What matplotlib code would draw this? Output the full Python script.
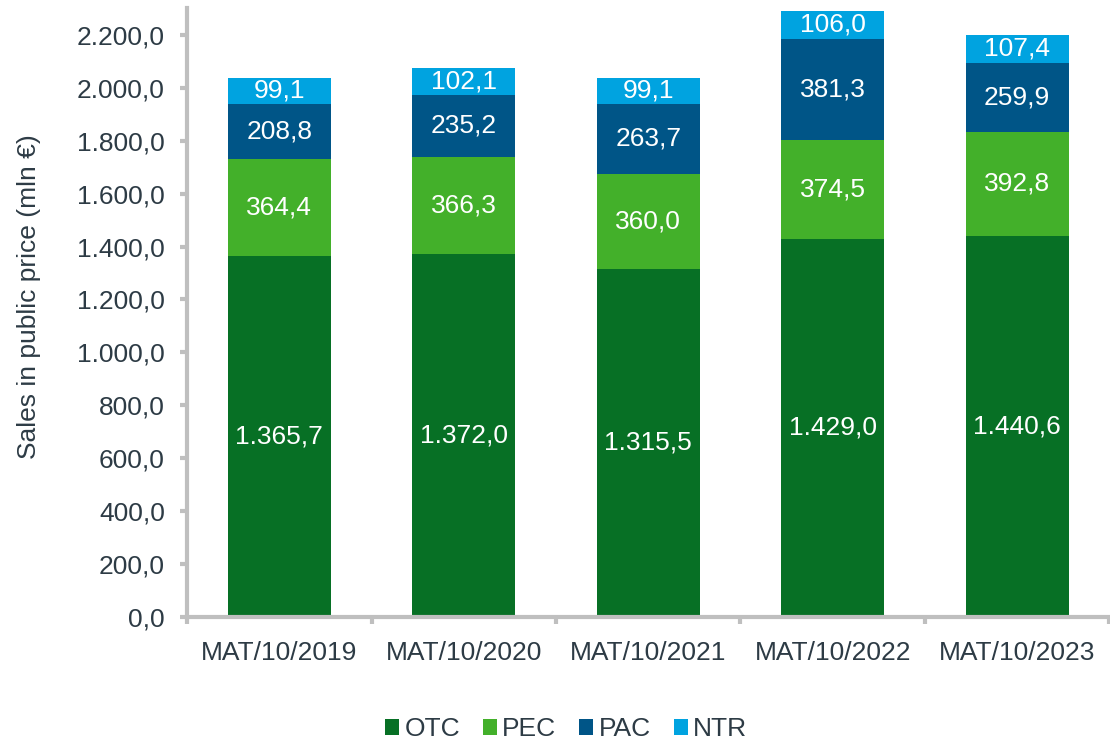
import matplotlib
matplotlib.use("Agg")
import matplotlib.pyplot as plt
import numpy as np

categories = ["MAT/10/2019", "MAT/10/2020", "MAT/10/2021", "MAT/10/2022", "MAT/10/2023"]
otc = [1365.7, 1372.0, 1315.5, 1429.0, 1440.6]
pec = [364.4, 366.3, 360.0, 374.5, 392.8]
pac = [208.8, 235.2, 263.7, 381.3, 259.9]
ntr = [99.1, 102.1, 99.1, 106.0, 107.4]
series_names = ["OTC", "PEC", "PAC", "NTR"]
colors = ["#077025", "#43b02a", "#005587", "#00a3e0"]
yticks = [0, 200, 400, 600, 800, 1000, 1200, 1400, 1600, 1800, 2000, 2200]

plt.rcParams['font.family'] = ['Liberation Sans', 'DejaVu Sans']
txt = "#2d3b45"
axc = "#bfbfbf"
fs = 19

def fmt(v):
    s = f"{v:,.1f}"
    return s.replace(",", "X").replace(".", ",").replace("X", ".")

fig = plt.figure(figsize=(11.1, 7.44), dpi=100)
ax = fig.add_axes([0.1685, 0.1707, 0.831, 0.818])
x = np.arange(len(categories))
bottom = np.zeros(len(categories))
for name, vals, c in zip(series_names, [otc, pec, pac, ntr], colors):
    vals = np.array(vals)
    ax.bar(x, vals, 0.56, bottom=bottom, color=c, label=name)
    for xi, b, v in zip(x, bottom, vals):
        ax.text(xi, b + v / 2, fmt(v), ha="center", va="center", color="white", fontsize=fs)
    bottom += vals

ax.set_xlim(-0.5, len(categories) - 0.5)
ax.set_ylim(0, 2300)
ax.set_yticks(yticks)
ax.set_yticklabels([fmt(v) for v in yticks])
ax.set_xticks(np.arange(-0.5, len(categories), 1.0), minor=False)
ax.set_xticklabels([])
ax.set_xticks(x, minor=True)
ax.set_xticklabels(categories, minor=True)
ax.tick_params(axis="x", which="minor", length=0, pad=17, labelsize=fs, labelcolor=txt)
ax.tick_params(axis="x", which="major", length=5, width=3, color=axc)
ax.tick_params(axis="y", length=5, width=3, color=axc, labelsize=fs, labelcolor=txt, pad=11)
for s in ["top", "right"]:
    ax.spines[s].set_visible(False)
for s in ["left", "bottom"]:
    ax.spines[s].set_color(axc)
    ax.spines[s].set_linewidth(3)
ax.set_ylabel("Sales in public price (mln €)", fontsize=fs, color=txt)
ax.yaxis.set_label_coords(-0.158, 0.527)

handles, labels = ax.get_legend_handles_labels()
fig.legend(handles, labels, loc="center", bbox_to_anchor=(0.51, 0.02), ncol=4, frameon=False,
           fontsize=fs, handlelength=0.53, handleheight=0.53, handletextpad=0.2, columnspacing=0.87,
           labelcolor=txt, borderpad=0)
fig.savefig("out.png", dpi=100)
